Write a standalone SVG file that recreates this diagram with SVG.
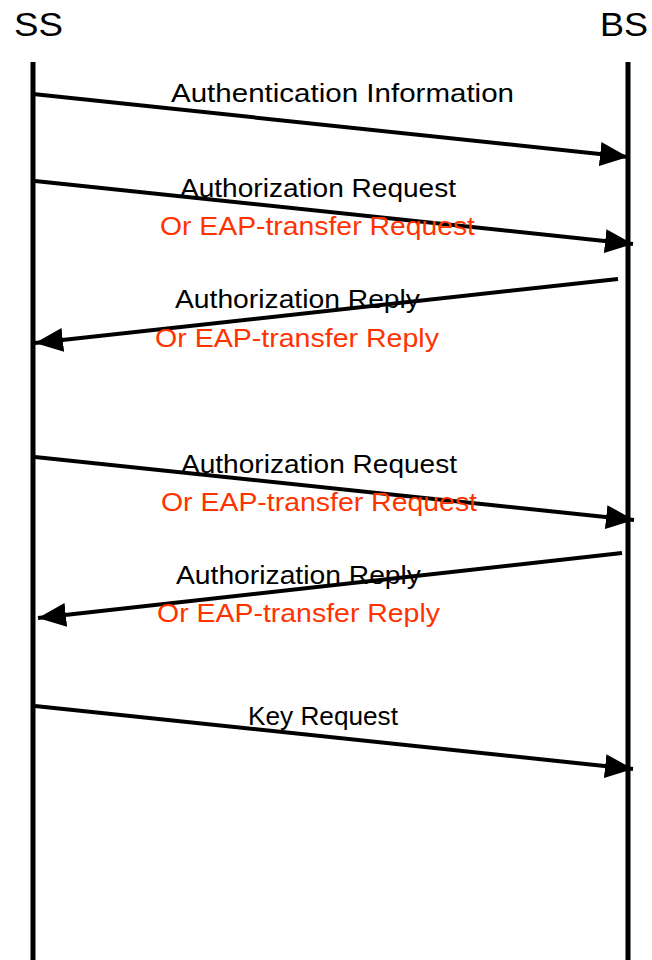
<svg xmlns="http://www.w3.org/2000/svg" width="652" height="960" viewBox="0 0 652 960">
<style>
.life{stroke:#000;stroke-width:5;fill:none}
.msg{stroke:#000;stroke-width:4;fill:none;marker-end:url(#ah)}
text{font-family:"Liberation Sans",Arial,sans-serif;font-size:26px}
.lbl{fill:#000}
.alt{fill:#ff3300}
.actor{font-size:33px;fill:#000}
</style>
<defs>
<marker id="ah" markerUnits="userSpaceOnUse" markerWidth="30" markerHeight="26" refX="28" refY="12" orient="auto" viewBox="0 0 30 26">
<path d="M0,0 L28,12 L0,24 z" fill="#000"/>
</marker>
</defs>
<rect width="652" height="960" fill="#fff"/>
<g id="SS">
<text class="actor" x="14" y="36" textLength="49" lengthAdjust="spacingAndGlyphs">SS</text>
<line class="life" x1="33" y1="62" x2="33" y2="960"/>
</g>
<g id="BS">
<text class="actor" x="600" y="36" textLength="48" lengthAdjust="spacingAndGlyphs">BS</text>
<line class="life" x1="628" y1="62" x2="628" y2="960"/>
</g>
<g id="connectors">
<line class="msg" x1="33" y1="94" x2="628" y2="157"/>
<line class="msg" x1="35" y1="181" x2="633" y2="244"/>
<line class="msg" x1="618" y1="279" x2="35" y2="343"/>
<line class="msg" x1="35" y1="457" x2="634" y2="520"/>
<line class="msg" x1="622" y1="553" x2="38" y2="618"/>
<line class="msg" x1="35" y1="706" x2="633" y2="769"/>
</g>
<g id="labels">
<text class="lbl" x="171" y="102" textLength="343" lengthAdjust="spacingAndGlyphs">Authentication Information</text>
<text class="lbl" x="180" y="197" textLength="276" lengthAdjust="spacingAndGlyphs">Authorization Request</text>
<text class="alt" x="160" y="235" textLength="315" lengthAdjust="spacingAndGlyphs">Or EAP-transfer Request</text>
<text class="lbl" x="175" y="308" textLength="245" lengthAdjust="spacingAndGlyphs">Authorization Reply</text>
<text class="alt" x="155" y="347" textLength="284" lengthAdjust="spacingAndGlyphs">Or EAP-transfer Reply</text>
<text class="lbl" x="181" y="473" textLength="276" lengthAdjust="spacingAndGlyphs">Authorization Request</text>
<text class="alt" x="161" y="511" textLength="316" lengthAdjust="spacingAndGlyphs">Or EAP-transfer Request</text>
<text class="lbl" x="176" y="584" textLength="245" lengthAdjust="spacingAndGlyphs">Authorization Reply</text>
<text class="alt" x="157" y="622" textLength="283" lengthAdjust="spacingAndGlyphs">Or EAP-transfer Reply</text>
<text class="lbl" x="248" y="725" textLength="150" lengthAdjust="spacingAndGlyphs">Key Request</text>
</g>
</svg>
